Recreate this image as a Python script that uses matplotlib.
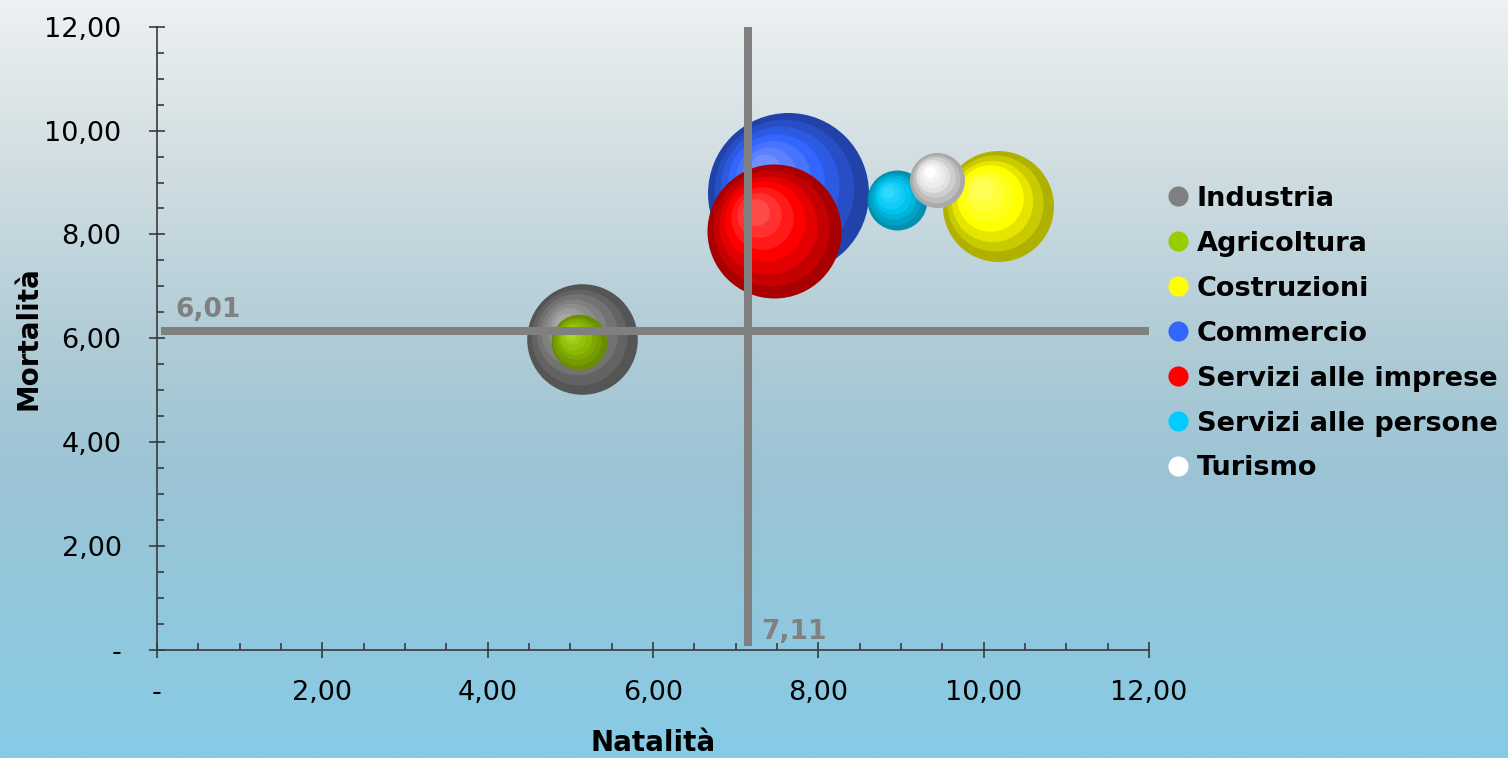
import numpy as np
import matplotlib
matplotlib.use("Agg")
import matplotlib.pyplot as plt
from matplotlib.colors import LinearSegmentedColormap, to_rgb
from matplotlib.lines import Line2D
from matplotlib.transforms import ScaledTranslation

# dati
settori = ["Industria", "Agricoltura", "Costruzioni", "Commercio",
           "Servizi alle imprese", "Servizi alle persone", "Turismo"]
natalita = [5.14, 5.10, 10.17, 7.63, 7.47, 8.95, 9.44]
mortalita = [5.98, 5.93, 8.55, 8.80, 8.07, 8.66, 9.05]
dimensione = [47.2, 11.9, 47.5, 100.0, 69.3, 13.9, 11.7]  # area relativa bolla

media_natalita = 7.11
media_mortalita = 6.01

# colori: legenda, bordo scuro, colore pieno, riflesso
col_legenda = ["#808080", "#99cc00", "#ffff00", "#3366ff", "#ff0000", "#00ccff", "#ffffff"]
col_scuro = ["#555555", "#6a8c00", "#b0b000", "#2142a8", "#a80000", "#0090b0", "#aaaaaa"]
col_pieno = ["#808080", "#88b800", "#ffff00", "#3366ff", "#ff0000", "#00c4ee", "#e2e2e2"]
col_luce = ["#a8a8a8", "#a8d428", "#ffff55", "#6f8fff", "#ff4a4a", "#30d8ff", "#ffffff"]

fig = plt.figure(figsize=(15.08, 7.58), dpi=100)

# sfondo sfumato
bg = fig.add_axes([0, 0, 1, 1], zorder=-10)
cmap_bg = LinearSegmentedColormap.from_list(
    "bg", [(0, "#edf1f2"), (0.2, "#d3dfe3"), (0.46, "#afcbd6"),
           (0.63, "#9bc4d5"), (1, "#87cbe6")])
bg.imshow(np.linspace(0, 1, 256).reshape(-1, 1), aspect="auto", cmap=cmap_bg,
          extent=[0, 1, 0, 1])
bg.axis("off")

ax = fig.add_axes([0.1041, 0.1425, 0.6578, 0.8223])
ax.set_facecolor("none")
ax.set_xlim(0, 12)
ax.set_ylim(0, 12)

s_max = 13435.0  # punti^2 per la bolla piu' grande


def mix(c1, c2, t):
    a, b = np.array(to_rgb(c1)), np.array(to_rgb(c2))
    return tuple(a + (b - a) * t)


n_anelli = 7
for i in range(len(settori)):
    s = dimensione[i] / 100.0 * s_max
    r_pt = np.sqrt(s) / 2
    for k in range(n_anelli):
        t = k / (n_anelli - 1)
        f = 1 - 0.8 * t
        if t < 0.5:
            c = mix(col_scuro[i], col_pieno[i], t / 0.5)
        else:
            c = mix(col_pieno[i], col_luce[i], (t - 0.5) / 0.5)
        dx = -0.28 * r_pt * t / 72
        dy = 0.28 * r_pt * t / 72
        tr = ax.transData + ScaledTranslation(dx, dy, fig.dpi_scale_trans)
        ax.scatter([natalita[i]], [mortalita[i]], s=s * f ** 2, color=c,
                   linewidths=0, transform=tr, zorder=2 + i * 0.01)

# linee medie (posizione come nel grafico)
ax.plot([0.05, 12], [6.15, 6.15], color="#808080", lw=5.8,
        solid_capstyle="butt", zorder=5)
ax.plot([7.15, 7.15], [0.07, 12], color="#808080", lw=5.8,
        solid_capstyle="butt", zorder=5)
ax.text(0.22, 6.41, f"{media_mortalita:.2f}".replace(".", ","), color="#808080",
        fontsize=19, fontweight="bold", ha="left", va="baseline")
ax.text(7.31, 0.21, f"{media_natalita:.2f}".replace(".", ","), color="#808080",
        fontsize=19, fontweight="bold", ha="left", va="baseline")

# assi
for sp in ["top", "right"]:
    ax.spines[sp].set_visible(False)
for sp in ["left", "bottom"]:
    ax.spines[sp].set_color("#3a3a3a")
    ax.spines[sp].set_linewidth(1.2)

ticks = np.arange(0, 13, 2)
ax.set_xticks(ticks)
ax.set_yticks(ticks)
ax.set_xticks(np.arange(0, 12.01, 0.5), minor=True)
ax.set_yticks(np.arange(0, 12.01, 0.5), minor=True)
fmt = lambda v: "-" if v == 0 else f"{v:.2f}".replace(".", ",")
ax.set_xticklabels([fmt(v) for v in ticks])
ax.set_yticklabels([fmt(v) for v in ticks])
ax.tick_params(which="major", direction="inout", length=11, width=1.2,
               color="#3a3a3a", labelsize=19.5, labelcolor="black")
ax.tick_params(axis="x", which="major", pad=16)
ax.tick_params(axis="y", which="major", pad=20)
ax.tick_params(which="minor", direction="in", length=5, width=1.2, color="#3a3a3a")

ax.set_xlabel("Natalità", fontsize=20, fontweight="bold", labelpad=17)
ax.set_ylabel("Mortalità", fontsize=20, fontweight="bold", labelpad=1)

# legenda
handles = [Line2D([], [], marker="o", linestyle="none", markersize=14.5,
                  markerfacecolor=c, markeredgewidth=0) for c in col_legenda]
fig.legend(handles, settori, loc="upper left", bbox_to_anchor=(0.774, 0.755),
           frameon=False, prop={"size": 19.5, "weight": "bold"},
           handlelength=0.8, handletextpad=0.3, labelspacing=0.7,
           borderaxespad=0, borderpad=0)

fig.savefig("out.png", dpi=100)
